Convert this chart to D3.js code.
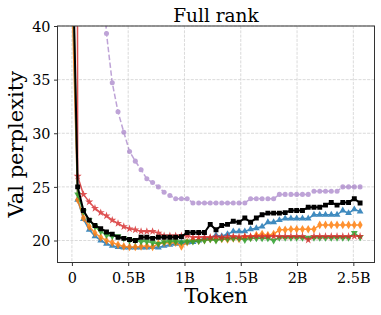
<!DOCTYPE html>
<html lang="en">
<head>
<meta charset="UTF-8">
<title>Full rank</title>
<script src="https://d3js.org/d3.v7.min.js"></script>
<style>
    body { margin: 0; background: #fff; }
    svg { font-family: "DejaVu Serif", serif; }
    .tick text { font-family: "DejaVu Serif", serif; font-size: 14.4px; fill: #000; }
    .grid line { stroke: #d0d0d0; stroke-width: 0.8; stroke-dasharray: 3,1.3; }
</style>
</head>
<body>
<div id="chart"></div>
<script>
    // tokens seen (billions) at every eval step
    const tokens = [0, 0.0512, 0.1024, 0.1536, 0.2048, 0.256, 0.3072, 0.3584, 0.4096, 0.4608,
        0.512, 0.5632, 0.6144, 0.6656, 0.7168, 0.768, 0.8192, 0.8704, 0.9216, 0.9728,
        1.024, 1.0752, 1.1264, 1.1776, 1.2288, 1.28, 1.3312, 1.3824, 1.4336, 1.4848,
        1.536, 1.5872, 1.6384, 1.6896, 1.7408, 1.792, 1.8432, 1.8944, 1.9456, 1.9968,
        2.048, 2.0992, 2.1504, 2.2016, 2.2528, 2.304, 2.3552, 2.4064, 2.4576, 2.5088, 2.56];

    const purpleVals = [600, 200, 110, 75, 58, 48, 39.3, 34.7, 32.0, 30.1,
        28.3, 27.4, 26.6, 25.75, 25.4, 25.0, 24.5, 24.2, 23.9, 23.9,
        23.9, 23.5, 23.5, 23.5, 23.5, 23.5, 23.5, 23.5, 23.5, 23.5,
        23.5, 23.9, 23.9, 23.9, 23.9, 23.9, 24.3, 24.3, 24.3, 24.3,
        24.3, 24.3, 24.6, 24.6, 24.6, 24.6, 24.6, 25.0, 25.0, 25.0, 25.0];
    const blueVals = [45, 23.8, 22.0, 21.0, 20.4, 20.0, 19.7, 19.5, 19.4, 19.35,
        19.35, 19.35, 19.35, 19.35, 19.4, 19.35, 19.5, 19.6, 19.7, 19.8,
        19.8, 19.85, 20.0, 20.2, 20.2, 20.5, 20.4, 20.6, 20.85, 20.85,
        20.85, 21.05, 21.15, 21.3, 21.7, 21.7, 21.9, 22.05, 22.05, 22.05,
        22.05, 22.05, 22.4, 22.4, 22.4, 22.4, 22.4, 22.8, 22.55, 22.9, 22.7];
    const orangeVals = [43, 23.8, 22.1, 21.3, 20.7, 20.3, 20.0, 19.8, 19.6, 19.45,
        19.4, 19.4, 19.45, 19.5, 19.4, 19.7, 19.8, 19.8, 19.8, 19.45,
        19.85, 20.0, 20.0, 20.05, 20.15, 20.1, 20.15, 20.1, 20.2, 20.15,
        20.3, 20.3, 20.5, 20.6, 20.5, 20.6, 21.0, 21.0, 21.05, 21.05,
        21.05, 21.05, 21.05, 21.45, 21.45, 21.45, 21.45, 21.45, 21.45, 21.45, 21.45];
    const greenVals = [50, 24.3, 22.7, 21.9, 21.3, 20.85, 20.5, 20.4, 20.4, 20.2,
        20.0, 20.0, 19.9, 19.9, 19.8, 19.7, 19.85, 19.9, 19.9, 19.85,
        19.9, 19.9, 19.95, 20.0, 20.1, 20.0, 20.15, 20.15, 20.2, 20.2,
        20.05, 20.2, 20.2, 20.2, 20.2, 20.0, 20.25, 20.25, 20.25, 20.25,
        20.25, 20.25, 20.25, 20.25, 20.25, 20.25, 20.25, 20.25, 20.25, 20.7, 20.3];
    const redVals = [500, 26.0, 24.3, 23.6, 23.0, 22.6, 22.3, 21.9, 21.6, 21.3,
        21.1, 21.0, 20.85, 20.85, 20.85, 20.7, 20.45, 20.45, 20.45, 20.45,
        20.45, 20.3, 20.3, 20.3, 20.3, 20.35, 20.3, 20.35, 20.4, 20.35,
        20.4, 20.4, 20.4, 20.4, 20.4, 20.4, 20.4, 20.4, 20.4, 20.4,
        20.4, 20.05, 20.4, 20.4, 20.4, 20.4, 20.4, 20.4, 20.4, 20.4, 20.4];
    const blackVals = [50, 25.0, 22.8, 21.9, 21.4, 21.1, 20.8, 20.6, 20.3, 20.2,
        20.1, 20.0, 20.3, 20.3, 20.2, 20.3, 20.3, 20.3, 20.3, 20.35,
        20.75, 20.75, 20.75, 20.75, 21.5, 21.0, 21.4, 21.5, 21.8, 21.7,
        22.1, 21.7, 22.1, 22.4, 22.55, 22.55, 22.55, 22.6, 22.8, 22.8,
        22.8, 23.1, 23.1, 23.1, 23.3, 23.55, 23.3, 23.55, 23.55, 23.9, 23.5];

    const xTicks = [0, 0.5, 1, 1.5, 2, 2.5];
    const xTickLabels = ['0', '0.5B', '1B', '1.5B', '2B', '2.5B'];
    const yTicks = [20, 25, 30, 35, 40];

    const series = [
        { values: purpleVals, color: '#9467bd', symbol: d3.symbolCircle, size: 20, opacity: 0.6, dash: '5.5,2.4', width: 1.5 },
        { values: blueVals, color: '#1f77b4', symbol: d3.symbolTriangle, size: 20, opacity: 0.85, dash: null, width: 1.5 },
        { values: orangeVals, color: '#ff7f0e', symbol: d3.symbolDiamond, size: 22, opacity: 0.85, dash: null, width: 1.5 },
        { values: greenVals, color: '#2ca02c', symbol: d3.symbolTriangle, size: 20, opacity: 0.85, dash: null, width: 1.5, flip: true },
        { values: redVals, color: '#d62728', symbol: d3.symbolStar, size: 20, opacity: 0.8, dash: null, width: 1.5 },
        { values: blackVals, color: '#000000', symbol: d3.symbolSquare, size: 24, opacity: 1, dash: null, width: 2 }
    ];

    const W = 381, H = 315;
    const box = { left: 57.5, right: 374.5, top: 26, bottom: 262.5 };

    const svg = d3.select('#chart').append('svg')
        .attr('width', W).attr('height', H);

    const x = d3.scaleLinear().domain([-0.128, 2.688]).range([box.left, box.right]);
    const y = d3.scaleLinear().domain([17.95, 40]).range([box.bottom, box.top]);

    svg.append('defs').append('clipPath').attr('id', 'plot')
        .append('rect').attr('x', box.left).attr('y', box.top)
        .attr('width', box.right - box.left).attr('height', box.bottom - box.top);

    // grid
    const grid = svg.append('g').attr('class', 'grid');
    grid.selectAll('.gx').data(xTicks).enter().append('line')
        .attr('x1', d => x(d)).attr('x2', d => x(d))
        .attr('y1', box.top).attr('y2', box.bottom);
    grid.selectAll('.gy').data(yTicks).enter().append('line')
        .attr('x1', box.left).attr('x2', box.right)
        .attr('y1', d => y(d)).attr('y2', d => y(d));

    // lines + markers
    const plot = svg.append('g').attr('clip-path', 'url(#plot)');
    const line = d3.line()
        .x((d, i) => x(tokens[i]))
        .y(d => y(d));

    series.forEach(s => {
        const g = plot.append('g').attr('opacity', s.opacity);
        g.append('path')
            .datum(s.values)
            .attr('fill', 'none')
            .attr('stroke', s.color)
            .attr('stroke-width', s.width)
            .attr('stroke-dasharray', s.dash)
            .attr('stroke-linejoin', 'round')
            .attr('d', line);
        g.selectAll('path.mk')
            .data(s.values)
            .enter().append('path')
            .attr('class', 'mk')
            .attr('d', d3.symbol().type(s.symbol).size(s.size))
            .attr('fill', s.color)
            .attr('transform', (d, i) => `translate(${x(tokens[i])},${y(d)})` + (s.flip ? ' rotate(180)' : ''));
    });

    // axes
    const xAxis = svg.append('g')
        .attr('transform', `translate(0,${box.bottom})`)
        .call(d3.axisBottom(x).tickValues(xTicks)
            .tickFormat((d, i) => xTickLabels[i]).tickSize(3.5).tickPadding(3.5));
    const yAxis = svg.append('g')
        .attr('transform', `translate(${box.left},0)`)
        .call(d3.axisLeft(y).tickValues(yTicks).tickSize(3.5).tickPadding(3.5));
    [xAxis, yAxis].forEach(a => {
        a.attr('font-family', null).attr('font-size', null);
        a.select('.domain').remove();
        a.selectAll('.tick line').attr('stroke', '#000').attr('stroke-width', 0.8);
    });
    xAxis.selectAll('.tick text').attr('dy', '0.95em');
    yAxis.selectAll('.tick text').attr('dy', '0.36em');

    // frame
    svg.append('rect')
        .attr('x', box.left).attr('y', box.top)
        .attr('width', box.right - box.left).attr('height', box.bottom - box.top)
        .attr('fill', 'none').attr('stroke', '#333').attr('stroke-width', 1);

    // labels
    svg.append('text')
        .attr('x', (box.left + box.right) / 2).attr('y', 21.5)
        .attr('text-anchor', 'middle')
        .style('font-size', '18.5px')
        .text('Full rank');
    svg.append('text')
        .attr('x', (box.left + box.right) / 2).attr('y', 303)
        .attr('text-anchor', 'middle')
        .style('font-size', '21px')
        .text('Token');
    svg.append('text')
        .attr('transform', `translate(23,${(box.top + box.bottom) / 2}) rotate(-90)`)
        .attr('text-anchor', 'middle')
        .style('font-size', '21px')
        .text('Val perplexity');
</script>
</body>
</html>
